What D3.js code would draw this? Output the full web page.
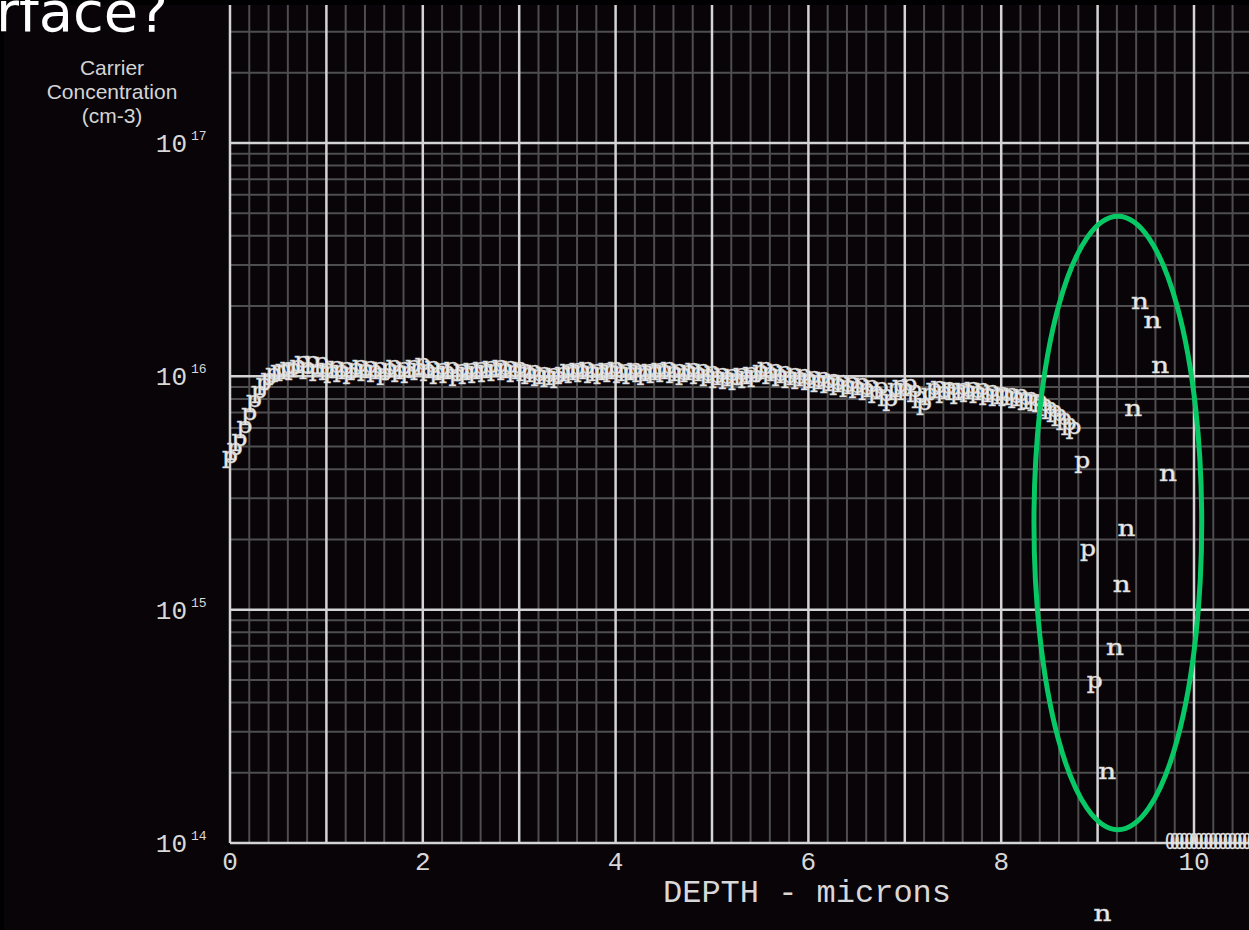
<!DOCTYPE html>
<html>
<head>
<meta charset="utf-8">
<script src="https://cdn.jsdelivr.net/npm/d3@7"></script>
<style>
  html, body { margin: 0; padding: 0; background: #000; }
  svg { display: block; }
</style>
</head>
<body>
<svg id="chart" width="1249" height="930"></svg>
<script>
// p-type profile, depth in microns, concentration in units of 1e15 cm-3
var pDepth = [
  0.00, 0.05, 0.10, 0.15, 0.20, 0.25, 0.30, 0.35, 0.40, 0.45, 0.50, 0.55, 0.60, 0.65, 0.70, 0.75, 0.80, 0.85, 0.90, 0.95,
  1.00, 1.05, 1.10, 1.15, 1.20, 1.25, 1.30, 1.35, 1.40, 1.45, 1.50, 1.55, 1.60, 1.65, 1.70, 1.75, 1.80, 1.85, 1.90, 1.95,
  2.00, 2.05, 2.10, 2.15, 2.20, 2.25, 2.30, 2.35, 2.40, 2.45, 2.50, 2.55, 2.60, 2.65, 2.70, 2.75, 2.80, 2.85, 2.90, 2.95,
  3.00, 3.05, 3.10, 3.15, 3.20, 3.25, 3.30, 3.35, 3.40, 3.45, 3.50, 3.55, 3.60, 3.65, 3.70, 3.75, 3.80, 3.85, 3.90, 3.95,
  4.00, 4.05, 4.10, 4.15, 4.20, 4.25, 4.30, 4.35, 4.40, 4.45, 4.50, 4.55, 4.60, 4.65, 4.70, 4.75, 4.80, 4.85, 4.90, 4.95,
  5.00, 5.05, 5.10, 5.15, 5.20, 5.25, 5.30, 5.35, 5.40, 5.45, 5.50, 5.55, 5.60, 5.65, 5.70, 5.75, 5.80, 5.85, 5.90, 5.95,
  6.00, 6.05, 6.10, 6.15, 6.20, 6.25, 6.30, 6.35, 6.40, 6.45, 6.50, 6.55, 6.60, 6.65, 6.70, 6.75, 6.80, 6.85, 6.90, 6.95,
  7.00, 7.05, 7.10, 7.15, 7.20, 7.25, 7.30, 7.35, 7.40, 7.45, 7.50, 7.55, 7.60, 7.65, 7.70, 7.75, 7.80, 7.85, 7.90, 7.95,
  8.00, 8.05, 8.10, 8.15, 8.20, 8.25, 8.30, 8.35, 8.40, 8.45, 8.50, 8.55, 8.60, 8.65, 8.70, 8.75
];
var pConc15 = [
  4.54, 4.91, 5.37, 6.10, 6.94, 7.82, 8.62, 9.30, 9.80, 10.3, 10.6, 10.7, 10.9, 10.8, 11.1, 11.6, 10.9, 11.5, 10.7, 11.4,
  10.8, 10.5, 11.0, 10.6, 10.9, 10.4, 10.8, 11.1, 10.7, 11.0, 10.6, 10.9, 10.3, 10.8, 11.1, 10.6, 10.9, 10.5, 11.1, 10.8,
  11.3, 10.7, 11.0, 10.4, 10.8, 10.5, 10.9, 10.2, 10.7, 10.4, 10.8, 10.5, 10.9, 10.6, 11.0, 10.7, 11.1, 10.8, 11.0, 10.6,
  10.9, 10.7, 10.4, 10.6, 10.2, 10.4, 10.1, 10.3, 10.0, 10.4, 10.7, 10.5, 10.8, 10.6, 10.9, 10.5, 10.7, 10.4, 10.8, 10.6,
  10.9, 10.5, 10.7, 10.4, 10.8, 10.6, 10.3, 10.7, 10.5, 10.8, 10.6, 10.9, 10.5, 10.7, 10.3, 10.6, 10.8, 10.4, 10.7, 10.2,
  10.5, 10.0, 10.3, 9.90, 10.2, 9.80, 10.3, 10.0, 10.4, 10.1, 10.6, 10.9, 10.4, 10.7, 10.2, 10.5, 10.0, 10.3, 9.90, 10.2,
  9.80, 10.0, 9.60, 9.90, 9.50, 9.70, 9.30, 9.60, 9.15, 9.40, 9.06, 9.30, 8.88, 9.15, 8.62, 8.97, 8.37, 7.97, 8.80, 9.15,
  8.88, 9.24, 8.71, 8.20, 7.66, 8.45, 8.80, 9.06, 8.62, 8.97, 8.80, 8.54, 8.88, 8.71, 8.97, 8.62, 8.80, 8.45, 8.71, 8.37,
  8.54, 8.30, 8.45, 8.20, 8.30, 8.05, 8.13, 7.90, 7.82, 7.58, 7.36, 7.15, 6.87, 6.60, 6.29, 6.00
];
// scattered points past the junction
var pTailDepth = [8.84, 8.90, 8.97];
var pTailConc = [4.3e15, 1.8e15, 4.9e14];
var nDepth = [9.44, 9.57, 9.65, 9.37, 9.73, 9.30, 9.25, 9.18, 9.10, 9.05];
var nConc = [2.06e16, 1.72e16, 1.1e16, 7.2e15, 3.8e15, 2.2e15, 1.26e15, 6.8e14, 2.0e14, 4.9e13];
// points sitting on the bottom of the scale
var floorDepth = [9.75, 9.80, 9.85, 9.90, 9.95, 10.00, 10.05, 10.10, 10.15, 10.20, 10.25, 10.30, 10.35, 10.40, 10.45, 10.50, 10.55, 10.60];
var floorConc = [1e14, 1e14, 1e14, 1e14, 1e14, 1e14, 1e14, 1e14, 1e14, 1e14, 1e14, 1e14, 1e14, 1e14, 1e14, 1e14, 1e14, 1e14];

var xTicks = [0, 2, 4, 6, 8, 10];
var yTicks = [1e14, 1e15, 1e16, 1e17];
var yTickExp = ["14", "15", "16", "17"];
var yTitle = ["Carrier", "Concentration", "(cm-3)"];

// green ring: left/right depth, top/bottom concentration
var ringDepth = [8.34, 10.08];
var ringConc = [4.85e16, 1.14e14];

var svg = d3.select("#chart");
var W = 1249, H = 930;
var plotLeft = 230, plotTop = 5, plotBottom = 843;

var x = d3.scaleLinear().domain([0, 10]).range([plotLeft, 1194]);
var y = d3.scaleLog().domain([1e14, 1e17]).range([plotBottom, 143]);

var mono = "'Liberation Mono', 'Courier New', monospace";
var serif = "'DejaVu Serif', 'Liberation Serif', serif";

svg.append("rect").attr("x", 0).attr("y", 0).attr("width", W).attr("height", H).attr("fill", "#000");
svg.append("rect").attr("x", 4).attr("y", plotTop).attr("width", W - 4).attr("height", H - plotTop).attr("fill", "#080408");

// title fragment from the slide
svg.append("text")
    .attr("x", -4).attr("y", 31)
    .attr("font-family", "'DejaVu Sans', Verdana, sans-serif")
    .attr("font-size", 56)
    .attr("fill", "#fff")
    .text("rface?");

// grid
var grid = svg.append("g");
var xMax = x.invert(W);
var vLines = d3.range(0, xMax, 0.2);
var isInt = function (d) { return Math.abs(d - Math.round(d)) <= 0.01; };

var hLines = [];
[14, 15, 16, 17].forEach(function (e) {
    for (var m = 1; m <= 9; m++) {
        var v = m * Math.pow(10, e);
        if (y(v) >= plotTop) hLines.push({ v: v, major: m === 1 });
    }
});

grid.selectAll(".vminor")
    .data(vLines.filter(function (d) { return !isInt(d); }))
    .enter().append("line")
    .attr("x1", function (d) { return x(d); }).attr("x2", function (d) { return x(d); })
    .attr("y1", plotTop).attr("y2", plotBottom)
    .attr("stroke", "#4e4e4e").attr("stroke-width", 2);

grid.selectAll(".hminor")
    .data(hLines.filter(function (d) { return !d.major; }))
    .enter().append("line")
    .attr("x1", plotLeft).attr("x2", W)
    .attr("y1", function (d) { return y(d.v); }).attr("y2", function (d) { return y(d.v); })
    .attr("stroke", "#4e4e4e").attr("stroke-width", 2);

grid.selectAll(".vmajor")
    .data(vLines.filter(isInt))
    .enter().append("line")
    .attr("x1", function (d) { return x(d); }).attr("x2", function (d) { return x(d); })
    .attr("y1", plotTop).attr("y2", plotBottom)
    .attr("stroke", "#d4d4d4").attr("stroke-width", 2.5);

grid.selectAll(".hmajor")
    .data(hLines.filter(function (d) { return d.major; }))
    .enter().append("line")
    .attr("x1", plotLeft).attr("x2", W)
    .attr("y1", function (d) { return y(d.v); }).attr("y2", function (d) { return y(d.v); })
    .attr("stroke", "#d4d4d4").attr("stroke-width", 2.5);

// tick labels
svg.selectAll(".xlab")
    .data(xTicks)
    .enter().append("text")
    .attr("x", function (d) { return x(d); })
    .attr("y", 870)
    .attr("text-anchor", "middle")
    .attr("font-family", mono).attr("font-size", 26)
    .attr("fill", "#d8d8d8")
    .text(function (d) { return d; });

var ylab = svg.selectAll(".ylab")
    .data(yTicks)
    .enter().append("g");
ylab.append("text")
    .attr("x", 187)
    .attr("y", function (d) { return y(d) + 9; })
    .attr("text-anchor", "end")
    .attr("font-family", mono).attr("font-size", 26)
    .attr("fill", "#d8d8d8")
    .text("10");
ylab.append("text")
    .attr("x", 191)
    .attr("y", function (d) { return y(d) - 3; })
    .attr("font-family", mono).attr("font-size", 13)
    .attr("fill", "#d8d8d8")
    .text(function (d, i) { return yTickExp[i]; });

svg.selectAll(".ytitle")
    .data(yTitle)
    .enter().append("text")
    .attr("x", 112)
    .attr("y", function (d, i) { return 75 + i * 24; })
    .attr("text-anchor", "middle")
    .attr("font-family", "'Liberation Sans', Arial, sans-serif")
    .attr("font-size", 21)
    .attr("fill", "#d4d4d4")
    .text(function (d) { return d; });

svg.append("text")
    .attr("x", 807).attr("y", 902)
    .attr("text-anchor", "middle")
    .attr("font-family", mono).attr("font-size", 32)
    .attr("fill", "#d8d8d8")
    .text("DEPTH - microns");

// data markers drawn as letters
function marks(depths, concs, ch, scale, w) {
    svg.append("g").selectAll("text")
        .data(depths.map(function (d, i) { return [d, concs[i] * scale]; }))
        .enter().append("text")
        .attr("x", function (d) { return x(d[0]); })
        .attr("y", function (d) { return y(d[1]); })
        .attr("dy", "0.27em")
        .attr("text-anchor", "middle")
        .attr("font-family", serif).attr("font-size", 23)
        .attr("textLength", w).attr("lengthAdjust", "spacingAndGlyphs")
        .attr("fill", "#ececec")
        .attr("stroke", "#cfcfcf").attr("stroke-width", 0.5)
        .text(ch);
}
marks(pDepth, pConc15, "p", 1e15, 16);
marks(pTailDepth, pTailConc, "p", 1, 16);
marks(nDepth, nConc, "n", 1, 18);
marks(floorDepth, floorConc, "0", 1, 10);

// annotation ring
var rx0 = x(ringDepth[0]), rx1 = x(ringDepth[1]);
var ry0 = y(ringConc[0]), ry1 = y(ringConc[1]);
svg.append("ellipse")
    .attr("cx", (rx0 + rx1) / 2).attr("cy", (ry0 + ry1) / 2)
    .attr("rx", (rx1 - rx0) / 2).attr("ry", (ry1 - ry0) / 2)
    .attr("fill", "none")
    .attr("stroke", "#08c866").attr("stroke-width", 5);
</script>
</body>
</html>
